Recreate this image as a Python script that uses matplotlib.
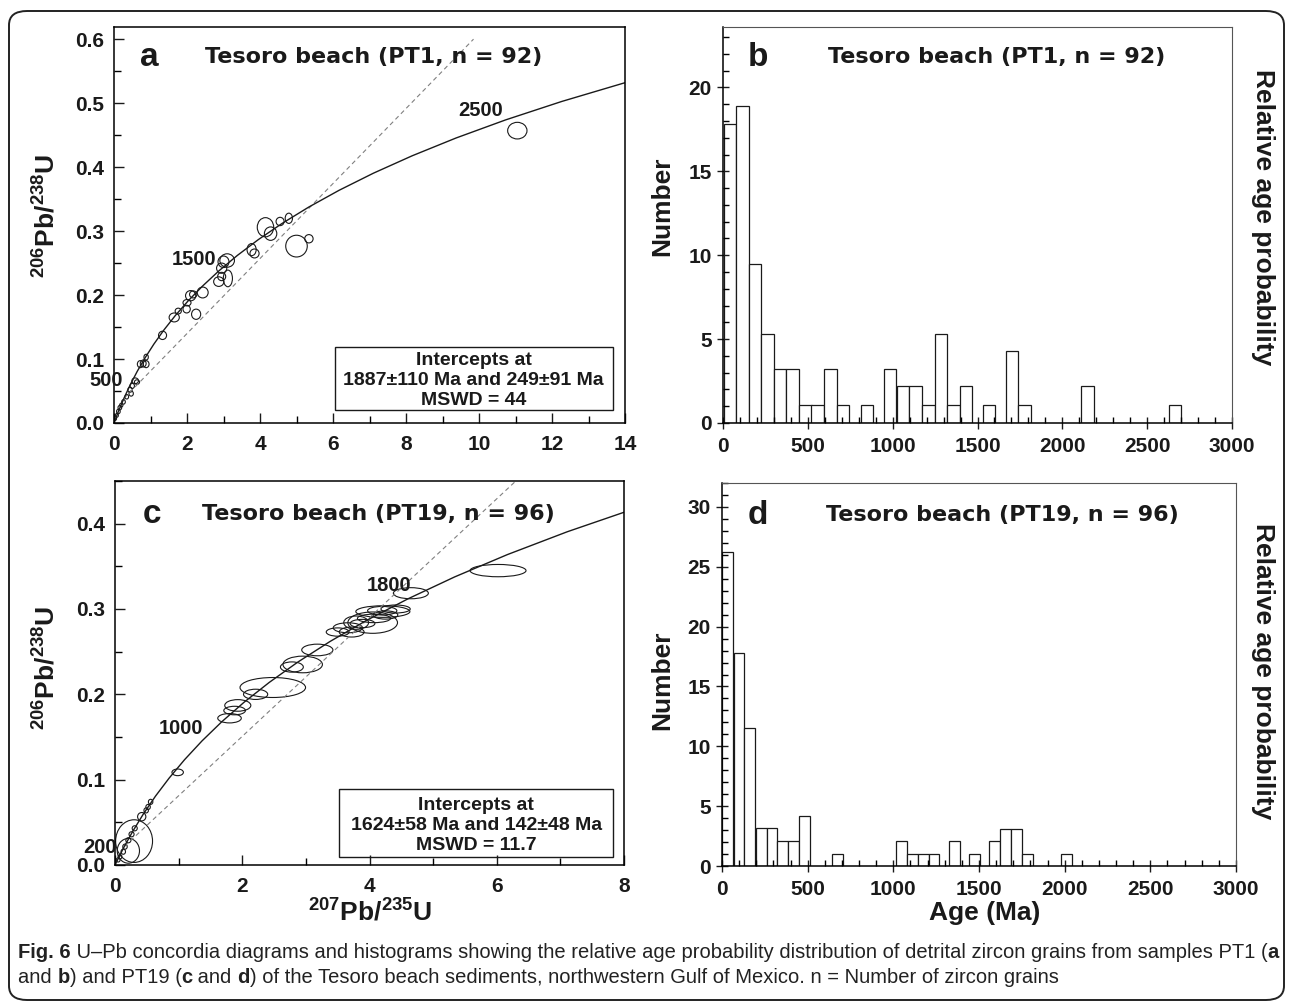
import matplotlib
matplotlib.use("Agg")
import matplotlib.pyplot as plt
from matplotlib.patches import Ellipse, Rectangle, FancyBboxPatch
from matplotlib.ticker import MultipleLocator

plt.rcParams['font.family'] = ['Liberation Sans', 'DejaVu Sans']
plt.rcParams['font.weight'] = 'bold'
plt.rcParams['mathtext.default'] = 'regular'

W, H = 1293, 1006

# concordia points (207Pb/235U, 206Pb/238U), every 125 Ma from 0 to 2750 Ma
conc_x = [0.0, 0.1310, 0.2792, 0.4467, 0.6363, 0.8506, 1.0931, 1.3673, 1.6774, 2.0282, 2.4249, 2.8735,
          3.3810, 3.9549, 4.6040, 5.3382, 6.1685, 7.1076, 8.1698, 9.3711, 10.7297, 12.2664, 14.0043]
conc_y = [0.0, 0.0196, 0.0395, 0.0599, 0.0807, 0.1018, 0.1234, 0.1454, 0.1678, 0.1907, 0.2140, 0.2378,
          0.2620, 0.2867, 0.3119, 0.3376, 0.3638, 0.3905, 0.4177, 0.4455, 0.4738, 0.5026, 0.5320]

# discordia lines (dashed)
disc_a_x = [0.28, 9.85]
disc_a_y = [0.039, 0.60]
disc_c_x = [0.15, 6.30]
disc_c_y = [0.022, 0.45]

# error ellipses PT1 (centre x, centre y, width, height)
ell_a_x = [11.05, 5.0, 5.34, 4.15, 4.29, 4.55, 4.79, 3.77, 3.85, 3.1, 3.0, 2.95, 3.12, 2.87, 2.95,
           2.43, 2.1, 2.17, 2.0, 1.99, 2.25, 1.65, 1.76, 1.33, 0.72, 0.8, 0.88, 0.88, 0.58, 0.63,
           0.5, 0.44, 0.47, 0.35, 0.26, 0.2, 0.16, 0.12, 0.08, 0.03]
ell_a_y = [0.457, 0.2765, 0.288, 0.306, 0.296, 0.315, 0.32, 0.271, 0.265, 0.254, 0.252, 0.242, 0.226, 0.221, 0.229,
           0.204, 0.199, 0.201, 0.188, 0.178, 0.17, 0.165, 0.175, 0.137, 0.092, 0.093, 0.092, 0.103, 0.066, 0.064,
           0.058, 0.052, 0.046, 0.041, 0.033, 0.028, 0.024, 0.018, 0.012, 0.007]
ell_a_w = [0.53, 0.59, 0.23, 0.45, 0.34, 0.22, 0.2, 0.25, 0.25, 0.4, 0.3, 0.28, 0.25, 0.28, 0.22,
           0.3, 0.28, 0.2, 0.22, 0.2, 0.25, 0.28, 0.17, 0.22, 0.16, 0.16, 0.16, 0.12, 0.18, 0.14,
           0.12, 0.12, 0.12, 0.1, 0.1, 0.09, 0.1, 0.1, 0.08, 0.08]
ell_a_h = [0.026, 0.034, 0.013, 0.03, 0.021, 0.013, 0.016, 0.019, 0.014, 0.021, 0.018, 0.016, 0.026, 0.015, 0.013,
           0.017, 0.016, 0.011, 0.01, 0.012, 0.016, 0.014, 0.009, 0.013, 0.011, 0.011, 0.011, 0.009, 0.009, 0.007,
           0.008, 0.008, 0.008, 0.007, 0.007, 0.006, 0.007, 0.007, 0.006, 0.006]

# error ellipses PT19
ell_c_x = [6.02, 4.65, 4.05, 4.21, 4.2, 4.41, 4.07, 3.79, 3.66, 3.5, 3.72, 3.89, 4.25,
           3.18, 2.95, 2.78, 2.48, 2.21, 1.93, 1.88, 1.8, 0.985,
           0.56, 0.52, 0.49, 0.42, 0.31, 0.26, 0.21, 0.157, 0.13, 0.079, 0.05, 0.30, 0.21]
ell_c_y = [0.345, 0.3185, 0.284, 0.297, 0.298, 0.300, 0.289, 0.284, 0.278, 0.273, 0.273, 0.283, 0.293,
           0.252, 0.235, 0.232, 0.208, 0.200, 0.187, 0.181, 0.172, 0.1086,
           0.074, 0.068, 0.064, 0.0566, 0.043, 0.036, 0.029, 0.0215, 0.0156, 0.0097, 0.006, 0.028, 0.0166]
ell_c_w = [0.88, 0.55, 0.78, 0.85, 0.46, 0.46, 0.52, 0.39, 0.46, 0.36, 0.39, 0.39, 0.39,
           0.49, 0.62, 0.36, 1.03, 0.38, 0.41, 0.34, 0.37, 0.18,
           0.07, 0.07, 0.07, 0.13, 0.08, 0.08, 0.08, 0.07, 0.07, 0.06, 0.06, 0.58, 0.35]
ell_c_h = [0.0144, 0.013, 0.025, 0.0136, 0.010, 0.0094, 0.010, 0.0156, 0.0117, 0.0097, 0.0117, 0.0097, 0.0097,
           0.0136, 0.0195, 0.012, 0.0234, 0.012, 0.0136, 0.010, 0.011, 0.0078,
           0.006, 0.006, 0.006, 0.0098, 0.006, 0.006, 0.006, 0.006, 0.006, 0.005, 0.005, 0.05, 0.029]

# age labels on concordia (text, x, y, alignment)
age_a = [("2500", 10.04, 0.489, 'center'), ("1500", 2.81, 0.255, 'right'), ("500", 0.25, 0.067, 'right')]
age_c = [("1800", 4.31, 0.327, 'center'), ("1000", 1.045, 0.1595, 'center'), ("200", 0.02, 0.021, 'right')]

# histograms (bin left edge in Ma, count)
b_left = [5, 79, 152, 226, 300, 374, 448, 521, 595, 669, 811, 947, 1025, 1099, 1173, 1247, 1320, 1394,
          1532, 1667, 1741, 2110, 2626]
b_count = [17.8, 18.9, 9.5, 5.3, 3.2, 3.2, 1.1, 1.1, 3.2, 1.1, 1.1, 3.2, 2.2, 2.2, 1.1, 5.3, 1.1, 2.2,
           1.1, 4.3, 1.1, 2.2, 1.1]
d_left = [0, 68, 131, 197, 260, 321, 387, 450, 642, 1016, 1082, 1145, 1206, 1325, 1442, 1561, 1624, 1687,
          1751, 1979]
d_count = [26.2, 17.8, 11.5, 3.2, 3.2, 2.1, 2.1, 4.2, 1.0, 2.1, 1.0, 1.0, 1.0, 2.1, 1.0, 2.1, 3.1, 3.1,
           1.0, 1.0]

TITLE_FONT = ['DejaVu Sans']
INK = '#1a1a1a'


def px(x, y):
    return x / W, 1 - y / H


def rect(l, t, r, b):
    return [l / W, 1 - b / H, (r - l) / W, (b - t) / H]


def concordia_panel(ax, xmax, ymax, ex, ey, ew, eh, dx, dy, ages, letter, title, box, lines, lpos):
    ax.set_xlim(0, xmax)
    ax.set_ylim(0, ymax)
    ax.plot(dx, dy, ls=(0, (4, 3)), color='#808080', lw=0.8)
    ax.plot(conc_x, conc_y, color=INK, lw=1.0)
    for x, y, w, h in zip(ex, ey, ew, eh):
        ax.add_patch(Ellipse((x, y), w, h, fill=False, ec=INK, lw=0.8))
    for t, x, y, ha in ages:
        ax.text(x, y, t, ha=ha, va='center', fontsize=14.5, color=INK)
    ax.xaxis.set_major_locator(MultipleLocator(2))
    ax.xaxis.set_minor_locator(MultipleLocator(1))
    ax.yaxis.set_major_locator(MultipleLocator(0.1))
    ax.yaxis.set_minor_locator(MultipleLocator(0.05))
    ax.yaxis.set_major_formatter(lambda v, p: f"{v:.1f}")
    ax.tick_params(which='major', direction='in', length=7, width=1, labelsize=15, colors=INK)
    ax.tick_params(axis='x', which='major', pad=9)
    ax.tick_params(axis='y', which='major', pad=7)
    ax.tick_params(which='minor', direction='in', length=5, width=1)
    for s in ax.spines.values():
        s.set_linewidth(1.1)
    ax.text(lpos[0], lpos[1], letter, transform=ax.transAxes, ha='center', va='center', fontsize=24, color=INK)
    ax.text(lpos[2], lpos[1], title, transform=ax.transAxes, ha='center', va='center',
            fontsize=16, family=TITLE_FONT, color=INK)
    ax.add_patch(Rectangle((box[0], box[1]), box[2] - box[0], box[3] - box[1], transform=ax.transAxes,
                           fill=False, ec=INK, lw=1.0))
    for t, yy in lines:
        ax.text((box[0] + box[2]) / 2, yy, t, transform=ax.transAxes, ha='center', va='center',
                fontsize=14, color=INK)


def hist_panel(ax, left, count, width, ymax, letter, title, lpos):
    ax.bar(left, count, width=width, align='edge', facecolor='white', edgecolor=INK, lw=0.9)
    ax.set_xlim(0, 3000)
    ax.set_ylim(0, ymax)
    ax.xaxis.set_major_locator(MultipleLocator(500))
    ax.xaxis.set_minor_locator(MultipleLocator(100))
    ax.yaxis.set_major_locator(MultipleLocator(5))
    ax.yaxis.set_minor_locator(MultipleLocator(1))
    ax.tick_params(which='major', direction='inout', length=8, width=1, labelsize=15, colors=INK)
    ax.tick_params(axis='x', which='major', pad=6)
    ax.tick_params(axis='y', which='major', pad=4)
    ax.tick_params(which='minor', direction='in', length=4, width=1)
    ax.spines['left'].set_linewidth(1.1)
    ax.spines['bottom'].set_linewidth(1.1)
    ax.spines['top'].set_color('#555555')
    ax.spines['right'].set_color('#555555')
    ax.text(lpos[0], lpos[1], letter, transform=ax.transAxes, ha='center', va='center', fontsize=24, color=INK)
    ax.text(lpos[2], lpos[1], title, transform=ax.transAxes, ha='center', va='center',
            fontsize=16, family=TITLE_FONT, color=INK)


fig = plt.figure(figsize=(W / 100, H / 100), dpi=100)

ax_a = fig.add_axes(rect(114, 27, 625, 423))
ax_b = fig.add_axes(rect(723, 27, 1232, 423))
ax_c = fig.add_axes(rect(115, 481, 624, 865))
ax_d = fig.add_axes(rect(722, 483, 1236, 866))

concordia_panel(ax_a, 14, 0.619, ell_a_x, ell_a_y, ell_a_w, ell_a_h, disc_a_x, disc_a_y, age_a,
                'a', 'Tesoro beach (PT1, n = 92)', (0.432, 0.032, 0.976, 0.193),
                [('Intercepts at', 0.159), ('1887±110 Ma and 249±91 Ma', 0.108), ('MSWD = 44', 0.0575)],
                (0.07, 0.924, 0.509))
concordia_panel(ax_c, 8, 0.45, ell_c_x, ell_c_y, ell_c_w, ell_c_h, disc_c_x, disc_c_y, age_c,
                'c', 'Tesoro beach (PT19, n = 96)', (0.441, 0.02, 0.978, 0.198),
                [('Intercepts at', 0.154), ('1624±58 Ma and 142±48 Ma', 0.102), ('MSWD = 11.7', 0.05)],
                (0.073, 0.913, 0.518))
hist_panel(ax_b, b_left, b_count, 74, 23.6, 'b', 'Tesoro beach (PT1, n = 92)', (0.068, 0.924, 0.537))
hist_panel(ax_d, d_left, d_count, 63, 32.0, 'd', 'Tesoro beach (PT19, n = 96)', (0.07, 0.916, 0.546))

# axis titles
lab = dict(fontsize=19, color=INK, ha='center', va='center')
fig.text(*px(46, 216), r'$^{206}$Pb/$^{238}$U', rotation=90, **lab)
fig.text(*px(46, 668), r'$^{206}$Pb/$^{238}$U', rotation=90, **lab)
fig.text(*px(662, 206), 'Number', rotation=90, **lab)
fig.text(*px(662, 680), 'Number', rotation=90, **lab)
fig.text(*px(1263, 217), 'Relative age probability', rotation=270, **lab)
fig.text(*px(1263, 671), 'Relative age probability', rotation=270, **lab)
fig.text(*px(370, 913), r'$^{207}$Pb/$^{235}$U', **lab)
fig.text(*px(985, 913), 'Age (Ma)', **lab)

# rounded outer frame
fig.patches.append(FancyBboxPatch(px(9, 1000), 1275 / W, 989 / H,
                                  boxstyle='round,pad=0,rounding_size=0.014', transform=fig.transFigure,
                                  fill=False, ec='#222222', lw=1.4, figure=fig))

# caption with bold runs
CAP_FONT = ['Liberation Sans']
cap1 = [('Fig. 6', True),
        (' U–Pb concordia diagrams and histograms showing the relative age probability distribution of '
         'detrital zircon grains from samples PT1 (', False),
        ('a', True)]
cap2 = [('and ', False), ('b', True), (') and PT19 (', False), ('c', True), (' and ', False), ('d', True),
        (') of the Tesoro beach sediments, northwestern Gulf of Mexico. n = Number of zircon grains', False)]

renderer = fig.canvas.get_renderer()


def draw_runs(runs, x, y):
    for txt, bold in runs:
        t = fig.text(x, y, txt, fontsize=14.5, family=CAP_FONT, fontweight='bold' if bold else 'normal',
                     color='#222222', va='baseline', ha='left')
        x += t.get_window_extent(renderer).width / W


draw_runs(cap1, 18 / W, 1 - 958 / H)
draw_runs(cap2, 18 / W, 1 - 983 / H)

fig.savefig('out.png', dpi=100)
